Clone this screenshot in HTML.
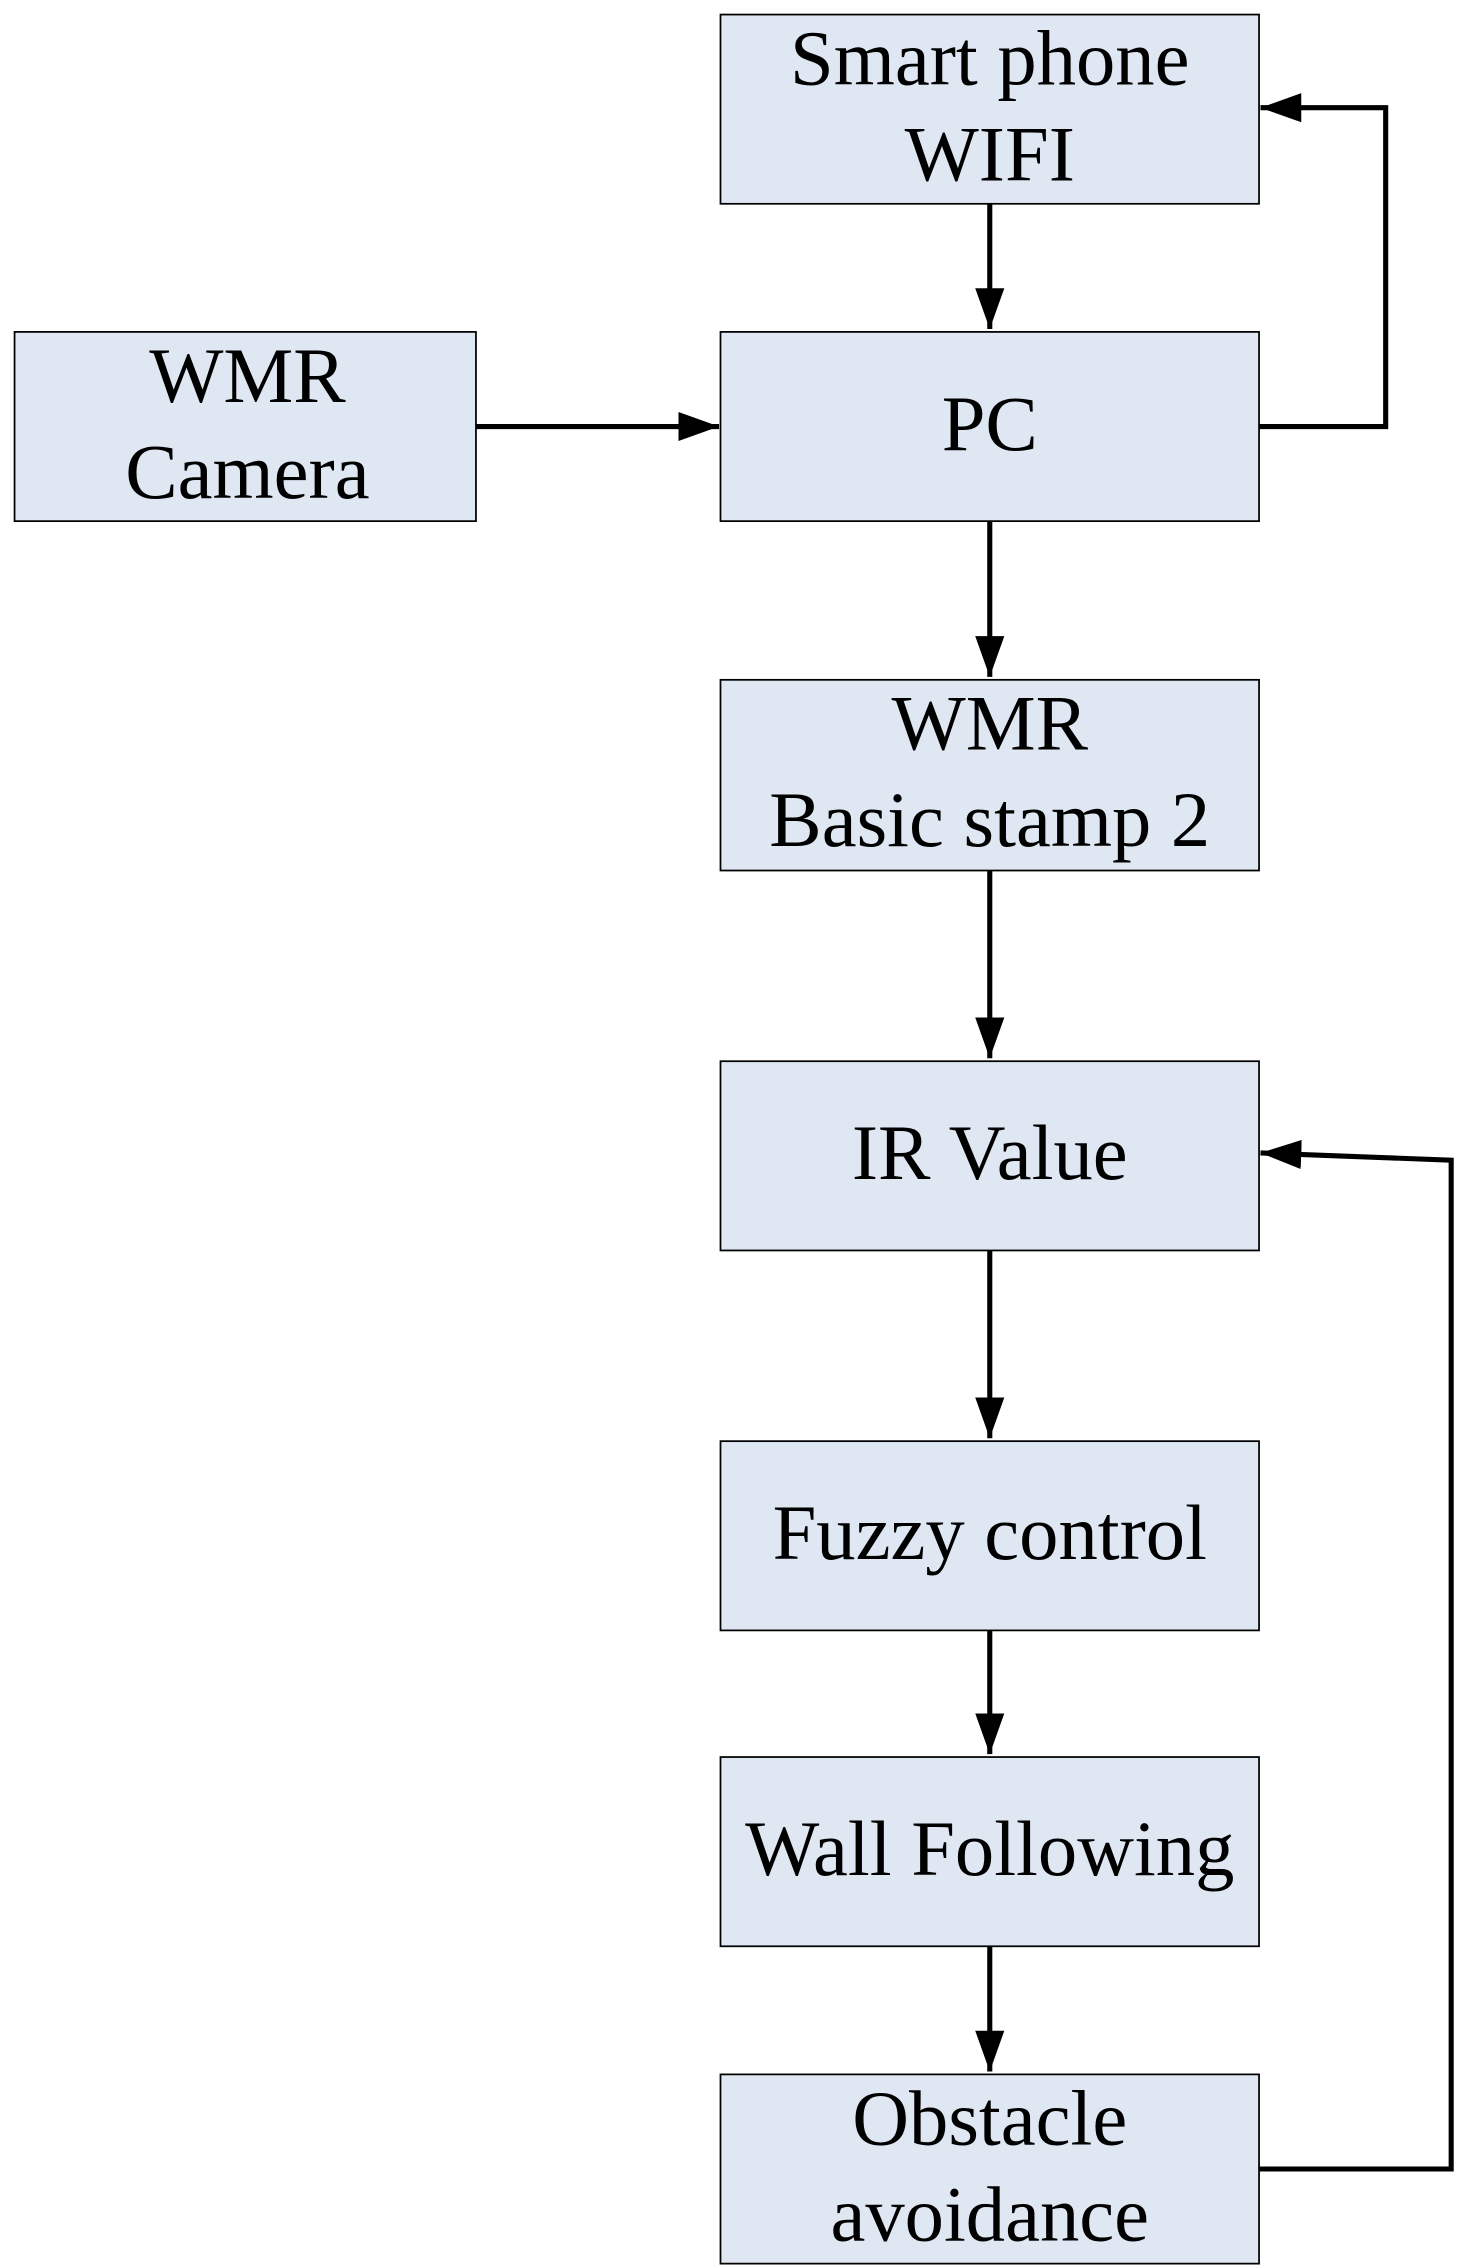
<!DOCTYPE html>
<html><head><style>
html,body{margin:0;padding:0;background:#fff;}
svg{display:block;}
text{font-family:"Liberation Serif",serif;font-size:54px;fill:#000;text-anchor:middle;}
</style></head><body>
<svg width="1457" height="2268" viewBox="0 0 1001 1558" preserveAspectRatio="none">
<defs>
<marker id="b" viewBox="0 0 28 20" markerWidth="28" markerHeight="20" refX="28" refY="10" orient="auto" markerUnits="userSpaceOnUse"><path d="M0,0 L28,10 L0,20 Z" fill="#000"/></marker></defs>
<g fill="#dfe7f3" stroke="#000" stroke-width="1.2">
<rect x="495" y="10" width="370" height="130"/>
<rect x="10" y="228" width="317" height="130"/>
<rect x="495" y="228" width="370" height="130"/>
<rect x="495" y="467" width="370" height="131"/>
<rect x="495" y="729" width="370" height="130"/>
<rect x="495" y="990" width="370" height="130"/>
<rect x="495" y="1207" width="370" height="130"/>
<rect x="495" y="1425" width="370" height="130"/>
</g>
<text x="680" y="58">Smart phone</text><text x="680" y="124">WIFI</text>
<text x="170" y="276">WMR</text><text x="170" y="342">Camera</text>
<text x="680" y="309">PC</text>
<text x="680" y="515">WMR</text><text x="680" y="581">Basic stamp 2</text>
<text x="680" y="810">IR Value</text>
<text x="680" y="1071">Fuzzy control</text>
<text x="680" y="1288">Wall Following</text>
<text x="680" y="1473">Obstacle</text><text x="680" y="1539">avoidance</text>
<g stroke="#000" stroke-width="3.5" fill="none">
<line x1="680" y1="140" x2="680" y2="226" marker-end="url(#b)"/>
<line x1="327" y1="293" x2="494" y2="293" marker-end="url(#b)"/>
<line x1="680" y1="358" x2="680" y2="465" marker-end="url(#b)"/>
<line x1="680" y1="598" x2="680" y2="727" marker-end="url(#b)"/>
<line x1="680" y1="859" x2="680" y2="988" marker-end="url(#b)"/>
<line x1="680" y1="1120" x2="680" y2="1205" marker-end="url(#b)"/>
<line x1="680" y1="1337" x2="680" y2="1423" marker-end="url(#b)"/>
<polyline points="865,293 952,293 952,74 866,74" marker-end="url(#b)"/>
<polyline points="865,1490 997,1490 997,797 866,792" marker-end="url(#b)"/>
</g>
</svg>
</body></html>
